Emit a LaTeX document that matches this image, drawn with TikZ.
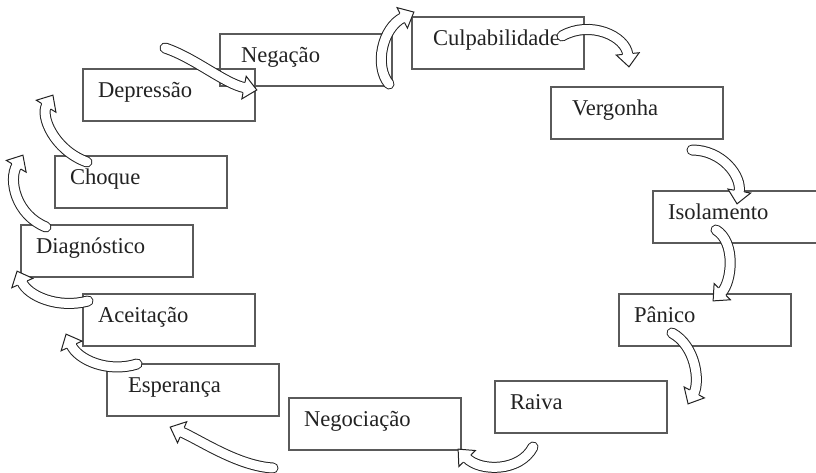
\documentclass[tikz,border=0pt]{standalone}
\usepackage{fontspec}
\setmainfont{Liberation Serif}
\usetikzlibrary{decorations.markings}
\definecolor{boxline}{HTML}{5A5A5A}
\definecolor{ink}{HTML}{222222}
\tikzset{
  stage/.style={draw=boxline, line width=2pt, rectangle, anchor=north west,
    minimum width=172pt, minimum height=52pt, inner ysep=0pt,
    text width=142pt, inner xsep=15pt, align=left,
    text height=15pt, text depth=11pt, text=ink,
    font=\fontsize{22.6}{26}\selectfont},
  wide/.style={text width=130pt, inner xsep=21pt},
  curvearrow/.style={draw=ink, line width=1pt, double=white, double distance=9pt,
    line cap=round, shorten >=12pt,
    postaction={decorate, decoration={markings, mark=at position 0.998 with {
      \fill[white] (-13pt,11.5pt) -- (0pt,0pt) -- (-13pt,-11.5pt) -- cycle;
      \draw[ink, line width=1pt, shorten >=0pt, line join=miter] (-13pt,5.5pt) -- (-13pt,11.5pt) -- (0pt,0pt) -- (-13pt,-11.5pt) -- (-13pt,-5.5pt);
    }}}}
}
\begin{document}
\begin{tikzpicture}[x=1pt,y=-1pt]
\useasboundingbox[fill=white] (0,0) rectangle (816,472);
% stages
\node[stage, wide] (neg)  at (219,33)  {Negação};
\node[stage, wide] (cul)  at (411,16)  {Culpabilidade};
\node[stage]       (dep)  at (82,68)   {Depressão};
\node[stage, wide] (ver)  at (550,86)  {Vergonha};
\node[stage]       (cho)  at (54,155)  {Choque};
\node[stage]       (iso)  at (652,190) {Isolamento};
\node[stage]       (dia)  at (20,224)  {Diagnóstico};
\node[stage]       (pan)  at (618,293) {Pânico};
\node[stage]       (ace)  at (82,293)  {Aceitação};
\node[stage, wide] (esp)  at (106,363) {Esperança};
\node[stage]       (rai)  at (494,380) {Raiva};
\node[stage]       (nego) at (288,397) {Negociação};
% arrow end points
\coordinate (a1s) at (165,48);  \coordinate (a1e) at (257,90);
\coordinate (a2s) at (389,84);  \coordinate (a2e) at (414,12);
\coordinate (a3s) at (562,36);  \coordinate (a3e) at (629,67);
\coordinate (a4s) at (692,150); \coordinate (a4e) at (737,204);
\coordinate (a5s) at (716,230); \coordinate (a5e) at (713,301);
\coordinate (a6s) at (672,333); \coordinate (a6e) at (688,404);
\coordinate (a7s) at (533,447); \coordinate (a7e) at (458,449);
\coordinate (a8s) at (273,468); \coordinate (a8e) at (170,427);
\coordinate (a9s) at (137,364); \coordinate (a9e) at (66,334);
\coordinate (a10s) at (88,301); \coordinate (a10e) at (17,271);
\coordinate (a11s) at (46,227); \coordinate (a11e) at (23,155);
\coordinate (a12s) at (87,162); \coordinate (a12e) at (53,95);
% curved arrows
\draw[curvearrow] (a1s) .. controls (195,58) and (225,84) .. (a1e);
\draw[curvearrow] (a2s) .. controls (374,66) and (382,28) .. (a2e);
\draw[curvearrow] (a3s) .. controls (590,20) and (626,36) .. (a3e);
\draw[curvearrow] (a4s) .. controls (722,150) and (742,176) .. (a4e);
\draw[curvearrow] (a5s) .. controls (736,242) and (732,282) .. (a5e);
\draw[curvearrow] (a6s) .. controls (696,346) and (700,382) .. (a6e);
\draw[curvearrow] (a7s) .. controls (520,472) and (480,472) .. (a7e);
\draw[curvearrow] (a8s) .. controls (238,466) and (200,440) .. (a8e);
\draw[curvearrow] (a9s) .. controls (108,373) and (78,360) .. (a9e);
\draw[curvearrow] (a10s) .. controls (58,309) and (28,296) .. (a10e);
\draw[curvearrow] (a11s) .. controls (16,215) and (8,180) .. (a11e);
\draw[curvearrow] (a12s) .. controls (54,150) and (40,116) .. (a12e);
\end{tikzpicture}
\end{document}
